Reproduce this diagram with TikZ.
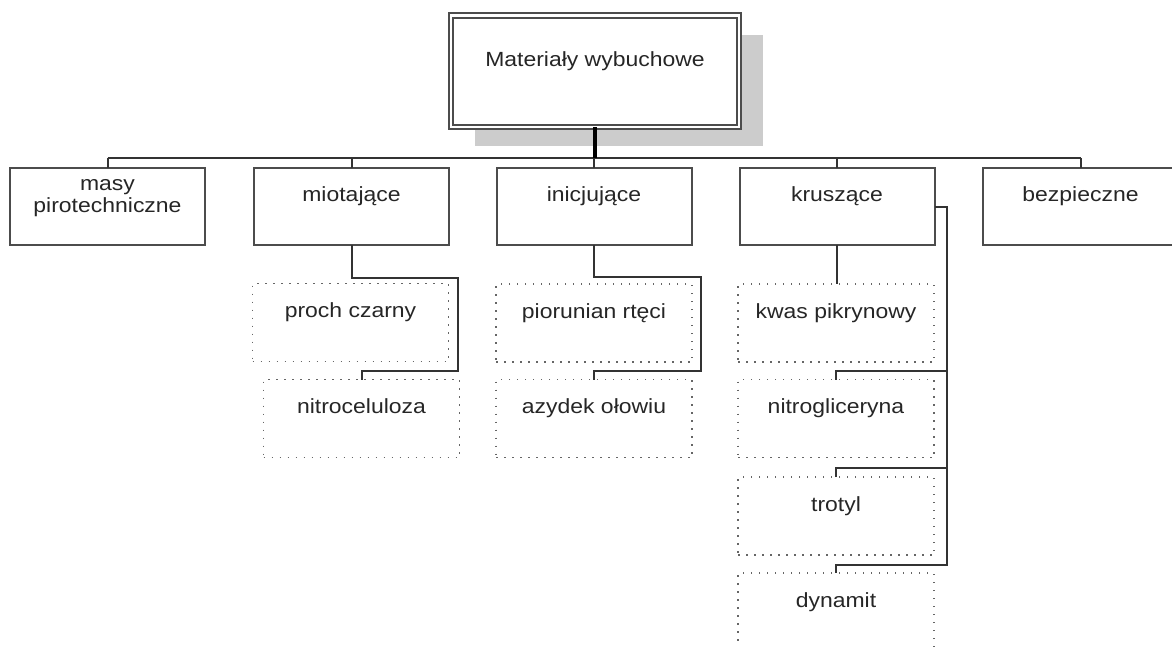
\documentclass[tikz,border=0pt]{standalone}
\usepackage{fontspec}
\setmainfont{Liberation Sans}[FakeStretch=1.12]
\usetikzlibrary{calc,shadows}

\begin{document}
\begin{tikzpicture}[x=1pt,y=-1pt,
    every node/.style={font=\fontsize{20.5}{22}\selectfont, text=black!85},
    topbox/.style={draw=black!70, line width=2pt, double=white, double distance=2.5pt,
        fill=white, minimum width=288pt, minimum height=111.5pt, outer sep=0pt,
        drop shadow={shadow xshift=24pt, shadow yshift=-19pt, fill=black!20, opacity=1}},
    catbox/.style={draw=black!70, line width=2pt, fill=white,
        minimum width=195pt, minimum height=77pt, outer sep=0pt},
    itembox/.style={draw=black!60, line width=1.5pt, dash pattern=on 1.5pt off 6.5pt,
        minimum width=196pt, minimum height=78pt, outer sep=0pt},
    txt/.style={yshift=10pt, text height=14pt, text depth=4pt, inner sep=0pt},
    txtii/.style={yshift=8.5pt, align=center, inner sep=0pt},
    link/.style={draw=black!80, line width=2pt},
    trunk/.style={draw=black, line width=3.5pt}]

    \useasboundingbox (0,0) rectangle (1172,646);
    \clip (0,0) rectangle (1172,646);

    %% Top of the tree
    \node [topbox, label={[txt]center:Materiały wybuchowe}] (mat) at (595,71.25) {};

    %% First level
    \node [catbox, label={[txtii]center:{masy\\pirotechniczne}}] (masy) at (107.5,206.5) {};
    \node [catbox, label={[txt]center:miotające}] (miot) at (351.5,206.5) {};
    \node [catbox, label={[txt]center:inicjujące}] (inic) at (594,206.5) {};
    \node [catbox, label={[txt]center:kruszące}] (krusz) at (837,206.5) {};
    \node [catbox, label={[txt]center:bezpieczne}] (bezp) at (1080.5,206.5) {};

    %% Second level
    \node [itembox, label={[txt]center:proch czarny}] (proch) at (350.5,322.5) {};
    \node [itembox, label={[txt]center:nitroceluloza}] (nitro) at (361.5,418.5) {};
    \node [itembox, label={[txt]center:piorunian rtęci}] (pior) at (594,323) {};
    \node [itembox, label={[txt]center:azydek ołowiu}] (azyd) at (594,418.5) {};
    \node [itembox, label={[txt]center:kwas pikrynowy}] (kwas) at (836,323) {};
    \node [itembox, label={[txt]center:nitrogliceryna}] (nitrog) at (836,418.5) {};
    \node [itembox, label={[txt]center:trotyl}] (trot) at (836,516) {};
    \node [itembox, label={[txt]center:dynamit}] (dyn) at (836,612) {};

    %% Bus under the top box
    \coordinate (busL) at (masy.north |- 0,158);
    \coordinate (busR) at (bezp.north |- 0,158);
    \draw [link] (busL) -- (busR);
    \draw [trunk] (mat.south) -- (mat.south |- busL);
    \draw [link] (masy.north) -- (busL);
    \draw [link] (miot.north) -- (miot.north |- busL);
    \draw [link] (inic.north) -- (inic.north |- busL);
    \draw [link] (krusz.north) -- (krusz.north |- busL);
    \draw [link] (bezp.north) -- (busR);

    %% Hanging connectors
    \draw [link] (miot.south) |- ($(proch.north east)+(9,-6)$)
        -- ($(proch.south east)+(9,9)$) -| (nitro.north);
    \draw [link] (inic.south) |- ($(pior.north east)+(9,-7)$)
        -- ($(pior.south east)+(9,9)$) -| (azyd.north);
    \draw [link] (krusz.south) -- (kwas.north -| krusz.south);
    \draw [link] (krusz.east) -| ($(trot.south east)+(13,10)$) -| (dyn.north);
    \draw [link] (nitrog.north) |- ($(kwas.south east)+(13,9)$);
    \draw [link] (trot.north) |- ($(nitrog.south east)+(13,10)$);
\end{tikzpicture}
\end{document}
